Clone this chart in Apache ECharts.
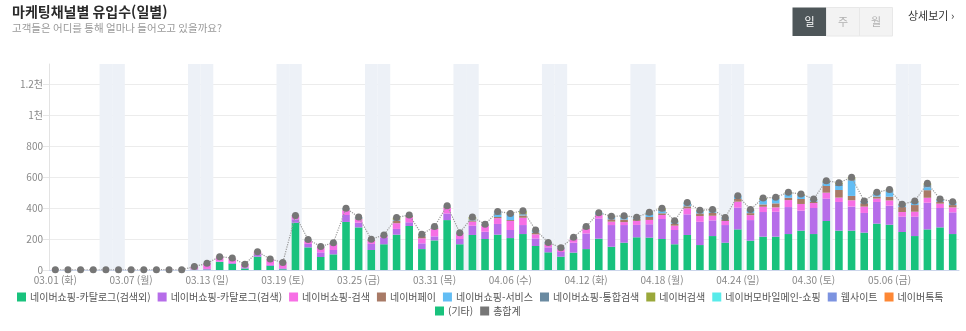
<!DOCTYPE html>
<html lang="ko">
<head>
<meta charset="utf-8">
<title>마케팅채널별 유입수(일별)</title>
<script src="https://cdn.jsdelivr.net/npm/echarts@6/dist/echarts.min.js"></script>
<style>
  html, body { margin: 0; padding: 0; background: #fff; }
  #chart { width: 966px; height: 331px; }
</style>
</head>
<body>
<div id="chart"></div>
<script>
// 일자 (2022.03.01 ~ 05.11)
const days = [
  '03.01 (화)','03.02 (수)','03.03 (목)','03.04 (금)','03.05 (토)','03.06 (일)','03.07 (월)','03.08 (화)','03.09 (수)','03.10 (목)','03.11 (금)','03.12 (토)',
  '03.13 (일)','03.14 (월)','03.15 (화)','03.16 (수)','03.17 (목)','03.18 (금)','03.19 (토)','03.20 (일)','03.21 (월)','03.22 (화)','03.23 (수)','03.24 (목)',
  '03.25 (금)','03.26 (토)','03.27 (일)','03.28 (월)','03.29 (화)','03.30 (수)','03.31 (목)','04.01 (금)','04.02 (토)','04.03 (일)','04.04 (월)','04.05 (화)',
  '04.06 (수)','04.07 (목)','04.08 (금)','04.09 (토)','04.10 (일)','04.11 (월)','04.12 (화)','04.13 (수)','04.14 (목)','04.15 (금)','04.16 (토)','04.17 (일)',
  '04.18 (월)','04.19 (화)','04.20 (수)','04.21 (목)','04.22 (금)','04.23 (토)','04.24 (일)','04.25 (월)','04.26 (화)','04.27 (수)','04.28 (목)','04.29 (금)',
  '04.30 (토)','05.01 (일)','05.02 (월)','05.03 (화)','05.04 (수)','05.05 (목)','05.06 (금)','05.07 (토)','05.08 (일)','05.09 (월)','05.10 (화)','05.11 (수)'
];

// 채널별 일 유입수
const catalogOther = [
  0,0,0,0,0,0,0,0,0,0,0,2,
  3,52,40,10,86,27,5,305,146,84,101,310,
  275,129,166,228,284,135,191,322,166,226,200,228,
  206,232,155,114,86,112,135,202,150,176,211,209,
  200,166,226,161,219,176,262,189,215,215,232,254,
  232,316,254,254,241,299,292,245,219,262,275,232
];
const catalogSearch = [
  0,0,0,0,0,0,0,0,0,0,0,2,
  4,3,6,7,15,6,6,22,22,30,28,45,
  30,39,42,37,24,37,26,43,34,60,47,69,
  52,58,49,32,30,64,101,131,140,114,80,86,
  129,92,133,150,101,114,140,133,159,161,174,129,
  168,144,185,155,127,140,123,99,125,172,125,140
];
const shopSearch = [
  2,1,2,1,1,1,2,1,2,2,1,18,
  36,29,29,19,14,36,36,22,20,30,37,30,
  22,20,12,37,32,32,48,37,36,26,37,37,
  58,47,26,19,19,24,30,22,22,19,26,28,
  26,28,39,37,30,26,39,32,34,28,45,43,
  32,39,28,41,41,22,34,30,32,32,28,32
];
const naverPay = [
  0,0,0,0,0,0,0,0,0,0,0,0,
  0,2,2,1,3,2,2,3,3,4,5,6,
  6,6,3,14,8,14,7,7,3,8,5,8,
  6,15,10,5,4,5,8,3,15,17,13,19,
  11,13,13,17,19,11,17,13,15,26,15,32,
  9,43,49,28,22,13,24,32,43,49,13,15
];
const shopService = [
  0,0,0,0,0,0,0,0,0,0,0,0,
  0,0,0,0,0,0,0,0,3,2,3,5,
  6,2,2,4,4,5,4,4,2,4,4,14,
  34,5,10,4,3,3,3,8,11,12,6,13,
  13,9,14,12,12,7,18,14,28,28,22,21,
  11,17,26,99,8,15,32,9,15,19,10,11
];
const shopIntegrated = [
  0,0,0,0,0,0,0,0,0,0,0,0,
  0,0,0,0,0,0,0,0,2,2,2,2,
  3,2,1,4,3,4,4,2,0,3,2,10,
  5,5,5,4,2,3,3,0,4,6,4,6,
  8,4,7,5,4,4,3,6,7,6,7,6,
  4,10,12,9,6,7,9,5,6,14,4,6
];
const naverSearch = [
  0,0,0,0,0,0,0,0,0,0,0,0,
  0,0,0,0,0,0,0,0,0,0,0,0,
  0,0,0,14,0,3,0,0,0,15,0,0,
  4,18,0,0,0,0,0,0,4,6,0,6,
  11,6,0,3,6,0,0,4,6,5,6,5,
  2,7,9,12,0,5,6,4,5,11,3,5
];
const mobileMain = [
  0,0,0,0,0,0,0,0,0,0,0,0,
  0,0,0,0,0,0,0,0,0,0,0,0,
  0,0,0,0,0,0,0,0,0,0,0,4,
  0,3,3,0,0,0,0,4,0,0,0,5,
  0,0,4,0,0,0,0,0,0,0,0,0,
  0,0,0,0,0,0,0,0,0,0,0,0
];
const website = [
  0,0,0,0,0,0,0,0,0,0,0,0,
  0,0,0,0,0,0,0,0,0,0,0,0,
  0,0,0,0,0,0,0,0,0,0,0,8,
  0,0,0,0,0,0,0,0,0,0,0,0,
  0,0,0,0,0,0,0,0,0,0,0,0,
  0,0,0,0,0,0,0,0,0,0,0,0
];
const talkTalk = [
  0,0,0,0,0,0,0,0,0,0,0,0,
  0,0,0,0,0,0,0,0,0,0,0,0,
  0,0,0,0,0,0,0,0,0,0,0,0,
  0,0,0,0,0,0,0,0,0,0,0,0,
  0,0,0,0,0,0,0,0,0,0,0,0,
  0,0,0,0,0,0,0,0,0,0,0,0
];
const etc = [
  0,0,0,0,0,0,0,0,0,0,0,0,
  0,0,0,0,0,0,0,0,0,0,0,0,
  0,0,0,0,0,0,0,0,0,0,0,0,
  0,0,0,0,0,0,0,0,0,0,0,0,
  0,0,0,0,0,0,0,0,0,0,0,0,
  0,0,0,0,0,0,0,0,0,0,0,0
];
const grandTotal = [
  2,1,2,1,1,1,2,1,2,2,1,22,
  43,86,77,37,118,71,49,352,196,152,176,398,
  342,198,226,338,355,230,280,415,241,342,295,378,
  365,383,258,178,144,211,280,370,346,350,340,372,
  398,318,436,385,391,338,479,391,464,469,501,490,
  458,576,563,598,445,501,520,424,445,559,458,441
];

const yTicks = [0, 200, 400, 600, 800, 1000, 1200];

const channels = [
  { name: '네이버쇼핑-카탈로그(검색외)', data: catalogOther,   color: '#19c27d' },
  { name: '네이버쇼핑-카탈로그(검색)',   data: catalogSearch,  color: '#b66de9' },
  { name: '네이버쇼핑-검색',             data: shopSearch,     color: '#f76fe5' },
  { name: '네이버페이',                  data: naverPay,       color: '#a87a66' },
  { name: '네이버쇼핑-서비스',           data: shopService,    color: '#62bdf4' },
  { name: '네이버쇼핑-통합검색',         data: shopIntegrated, color: '#6a8aa1' },
  { name: '네이버검색',                  data: naverSearch,    color: '#9aa83a' },
  { name: '네이버모바일메인-쇼핑',       data: mobileMain,     color: '#58ebea' },
  { name: '웹사이트',                    data: website,        color: '#7c93e0' },
  { name: '네이버톡톡',                  data: talkTalk,       color: '#fd8734' },
  { name: '(기타)',                      data: etc,            color: '#19c27d' }
];
const totalName = '총합계';

// 주말(토·일) 음영 구간
const weekendBand = days.map(d => (d.indexOf('(토)') > 0 || d.indexOf('(일)') > 0) ? 1 : '-');

const FONT = '"Noto Sans CJK KR", "Noto Sans", sans-serif';
const chart = echarts.init(document.getElementById('chart'), null, { renderer: 'canvas' });

const barSeries = channels.map(c => ({
  name: c.name,
  type: 'bar',
  stack: 'inflow',
  xAxisIndex: 0,
  yAxisIndex: 0,
  barWidth: '60%',
  data: c.data,
  itemStyle: { color: c.color },
  emphasis: { disabled: true },
  z: 3
}));

const legendRow1 = channels.slice(0, 10).map(c => c.name);
const legendRow2 = [channels[10].name, totalName];
const legendBase = {
  orient: 'horizontal',
  left: 'center',
  padding: 0,
  itemWidth: 9,
  itemHeight: 9,
  itemGap: 7,
  icon: 'rect',
  textStyle: { fontFamily: FONT, fontSize: 10, color: '#555', padding: [0, 0, 0, -1] }
};

chart.setOption({
  animation: false,
  textStyle: { fontFamily: FONT },
  title: {
    text: '마케팅채널별 유입수(일별)',
    subtext: '고객들은 어디를 통해 얼마나 들어오고 있을까요?',
    left: 12,
    top: 5,
    padding: 0,
    itemGap: 4,
    textStyle: { fontFamily: FONT, fontSize: 14, fontWeight: 'bold', color: '#2a2a2a' },
    subtextStyle: { fontFamily: FONT, fontSize: 10.5, color: '#999' }
  },
  legend: [
    Object.assign({}, legendBase, { data: legendRow1, top: 292, left: 17 }),
    Object.assign({}, legendBase, { data: legendRow2, top: 306, left: 435 })
  ],
  grid: [
    { left: 49, right: 7, top: 84, bottom: 61 },
    { left: 49, right: 7, top: 64, bottom: 61 }
  ],
  xAxis: [
    {
      type: 'category',
      gridIndex: 0,
      data: days,
      boundaryGap: true,
      axisLine: { lineStyle: { color: '#ccd6eb' } },
      axisTick: { interval: 0, length: 5, lineStyle: { color: '#ccd6eb' } },
      axisLabel: { interval: 5, color: '#888', fontSize: 10, margin: 5, fontFamily: FONT }
    },
    {
      type: 'category',
      gridIndex: 1,
      data: days,
      boundaryGap: true,
      show: false
    }
  ],
  yAxis: [
    {
      type: 'value',
      gridIndex: 0,
      min: 0,
      max: yTicks[yTicks.length - 1],
      interval: yTicks[1] - yTicks[0],
      axisLine: { show: false },
      axisTick: { show: true, length: 6, lineStyle: { color: '#e6e6e6' } },
      splitLine: { lineStyle: { color: '#ececec' } },
      axisLabel: {
        color: '#888',
        fontSize: 10,
        margin: 6,
        fontFamily: FONT,
        formatter: v => v >= 1000 ? (v / 1000) + '천' : String(v)
      }
    },
    {
      type: 'value',
      gridIndex: 1,
      min: 0,
      max: 1,
      axisLine: { show: true, lineStyle: { color: '#e3e3e3' } },
      axisTick: { show: false },
      axisLabel: { show: false },
      splitLine: { show: false }
    }
  ],
  series: [
    {
      name: 'weekend',
      type: 'bar',
      xAxisIndex: 1,
      yAxisIndex: 1,
      barWidth: '100%',
      data: weekendBand,
      itemStyle: { color: '#edf1f7' },
      silent: true,
      legendHoverLink: false,
      z: 1
    },
    ...barSeries,
    {
      name: totalName,
      type: 'line',
      xAxisIndex: 0,
      yAxisIndex: 0,
      data: grandTotal,
      symbol: 'circle',
      symbolSize: 7,
      itemStyle: { color: '#767676' },
      lineStyle: { color: '#9a9a9a', width: 1.2, type: 'dotted' },
      emphasis: { disabled: true },
      z: 5
    }
  ],
  graphic: [
    { type: 'rect', shape: { x: 792.5, y: 7.5, width: 34, height: 28.5 }, style: { fill: '#4e5659' } },
    { type: 'rect', shape: { x: 826.5, y: 7.5, width: 33, height: 28.5 }, style: { fill: '#f3f3f3', stroke: '#e8e8e8', lineWidth: 1 } },
    { type: 'rect', shape: { x: 859.5, y: 7.5, width: 33, height: 28.5 }, style: { fill: '#f3f3f3', stroke: '#e8e8e8', lineWidth: 1 } },
    { type: 'text', x: 809.5, y: 21.5, style: { text: '일', fill: '#ffffff', font: '11px ' + FONT, textAlign: 'center', textVerticalAlign: 'middle' } },
    { type: 'text', x: 843, y: 21.5, style: { text: '주', fill: '#b0b0b0', font: '11px ' + FONT, textAlign: 'center', textVerticalAlign: 'middle' } },
    { type: 'text', x: 876, y: 21.5, style: { text: '월', fill: '#b0b0b0', font: '11px ' + FONT, textAlign: 'center', textVerticalAlign: 'middle' } },
    { type: 'text', x: 908, y: 16, style: { text: '상세보기 ›', fill: '#333', font: '11px ' + FONT, textAlign: 'left', textVerticalAlign: 'middle' } }
  ]
});
</script>
</body>
</html>
